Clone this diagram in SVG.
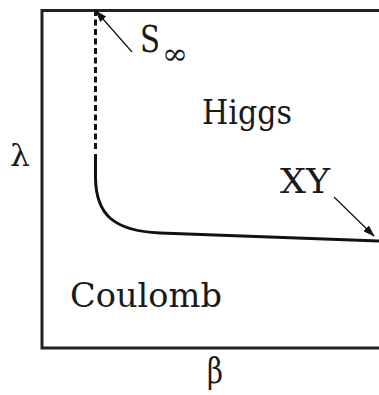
<svg xmlns="http://www.w3.org/2000/svg" width="379" height="395" viewBox="0 0 379 395">
<style>
text{font-family:'DejaVu Serif','Liberation Serif',serif;fill:#1a1a1a}
.frame{fill:none;stroke:#222;stroke-width:3}
.curve{fill:none;stroke:#111;stroke-width:3}
.arr{stroke:#111;stroke-width:1.2;fill:none}
</style>
<defs>
<marker id="ah" viewBox="0 0 12 8" refX="11" refY="4" markerWidth="12" markerHeight="8" markerUnits="userSpaceOnUse" orient="auto">
<path d="M0,0 L12,4 L0,8 Z" fill="#111"/>
</marker>
</defs>
<rect width="379" height="395" fill="#fff"/>
<g id="frame">
<path class="frame" d="M381,10.5 H42 V348 H381"/>
</g>
<g id="connectors">
<path class="curve" d="M95.5,10 V150" stroke-dasharray="6,3.5"/>
<path class="curve" d="M95.5,154 V178 C96,214 113,231 160,233 L379,241"/>
<line class="arr" x1="132" y1="52" x2="96" y2="11" marker-end="url(#ah)"/>
<line class="arr" x1="334" y1="197" x2="374" y2="236" marker-end="url(#ah)"/>
</g>
<g id="labels">
<text x="140" y="52" font-size="37" textLength="20" lengthAdjust="spacingAndGlyphs">S</text>
<text x="162" y="64" font-size="30" textLength="26" lengthAdjust="spacingAndGlyphs">∞</text>
<text x="202" y="124" font-size="34" textLength="90" lengthAdjust="spacingAndGlyphs">Higgs</text>
<text x="280" y="193" font-size="33" textLength="50" lengthAdjust="spacingAndGlyphs">XY</text>
<text x="70" y="307" font-size="34" textLength="152" lengthAdjust="spacingAndGlyphs">Coulomb</text>
<text x="10" y="166" font-size="30" textLength="20" lengthAdjust="spacingAndGlyphs">λ</text>
<text x="207" y="383" font-size="36" textLength="16" lengthAdjust="spacingAndGlyphs">β</text>
</g>
</svg>
